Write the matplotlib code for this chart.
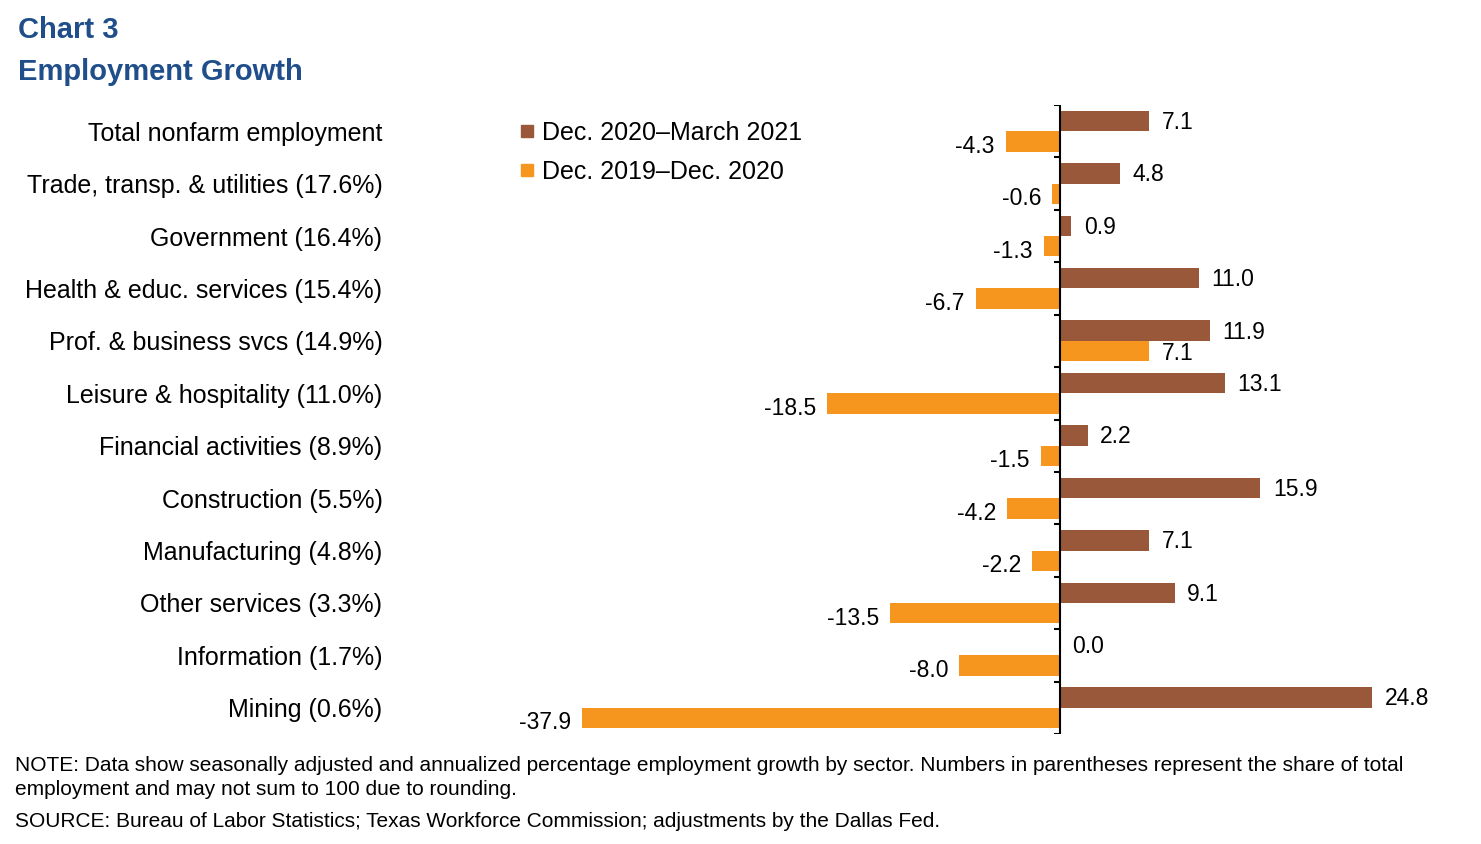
import numpy as np
import matplotlib.pyplot as plt
from matplotlib.lines import Line2D

plt.rcParams['font.family'] = ['Liberation Sans', 'DejaVu Sans']

# data
sectors = ['Total nonfarm employment', 'Trade, transp. & utilities (17.6%)',
           'Government (16.4%)', 'Health & educ. services (15.4%)',
           'Prof. & business svcs (14.9%)', 'Leisure & hospitality (11.0%)',
           'Financial activities (8.9%)', 'Construction (5.5%)',
           'Manufacturing (4.8%)', 'Other services (3.3%)',
           'Information (1.7%)', 'Mining (0.6%)']
recent = [7.1, 4.8, 0.9, 11.0, 11.9, 13.1, 2.2, 15.9, 7.1, 9.1, 0.0, 24.8]
prior = [-4.3, -0.6, -1.3, -6.7, 7.1, -18.5, -1.5, -4.2, -2.2, -13.5, -8.0, -37.9]
series_names = ['Dec. 2020\u2013March 2021', 'Dec. 2019\u2013Dec. 2020']

brown = '#985839'
orange = '#F7961F'
blue = '#1F4E8A'

W, H = 1481, 844
fig = plt.figure(figsize=(W / 100, H / 100), dpi=100)

# axes placed in pixels
L, R, T, B = 395, 1440, 105, 734
ax = fig.add_axes([L / W, 1 - B / H, (R - L) / W, (B - T) / H])
scale = 12.6  # px per unit
ax.set_xlim(-(1060 - L) / scale, (R - 1060) / scale)
ax.set_ylim(len(sectors) - 0.5, -0.5)

y = np.arange(len(sectors))
bh = 0.39
ax.barh(y - bh / 2, recent, height=bh, color=brown)
ax.barh(y + bh / 2, prior, height=bh, color=orange)

# value labels
for i in range(len(sectors)):
    for v, yy in ((recent[i], y[i] - bh / 2), (prior[i], y[i] + bh / 2)):
        if v >= 0:
            dy = -1 if yy < y[i] else -2
            ax.annotate(f'{v:.1f}', (v, yy), xytext=(9, dy), textcoords='offset points',
                        ha='left', va='center', fontsize=16.5)
        else:
            ax.annotate(f'{v:.1f}', (v, yy), xytext=(-8, -3.5), textcoords='offset points',
                        ha='right', va='center', fontsize=16.5)

# zero axis with ticks between categories
ax.vlines(0, -0.5, len(sectors) - 0.5, color='black', lw=1.5)
bounds = np.arange(len(sectors) + 1) - 0.5
ax.hlines(bounds, -6 / scale, 0, color='black', lw=1.5)

ax.set_yticks(y)
ax.set_yticklabels(sectors, fontsize=18)
ax.tick_params(axis='y', length=0, pad=9)
ax.set_xticks([])
for s in ax.spines.values():
    s.set_visible(False)

handles = [Line2D([], [], marker='s', ls='none', color=brown, markersize=9),
           Line2D([], [], marker='s', ls='none', color=orange, markersize=9)]
fig.legend(handles, series_names, loc='upper left', bbox_to_anchor=(510 / W, 1 - 111 / H),
           frameon=False, fontsize=18, handlelength=0.55, handletextpad=0.35,
           labelspacing=0.6, borderaxespad=0)

# titles
fig.text(18 / W, 1 - 38 / H, 'Chart 3', fontsize=21, fontweight='bold', color=blue)
fig.text(18 / W, 1 - 80 / H, 'Employment Growth', fontsize=21, fontweight='bold', color=blue)

# notes
fig.text(15 / W, 1 - 771 / H,
         'NOTE: Data show seasonally adjusted and annualized percentage employment growth by sector. '
         'Numbers in parentheses represent the share of total', fontsize=15)
fig.text(15 / W, 1 - 795 / H, 'employment and may not sum to 100 due to rounding.', fontsize=15)
fig.text(15 / W, 1 - 827 / H,
         'SOURCE: Bureau of Labor Statistics; Texas Workforce Commission; adjustments by the Dallas Fed.',
         fontsize=15)

fig.savefig('out.png', dpi=100)
